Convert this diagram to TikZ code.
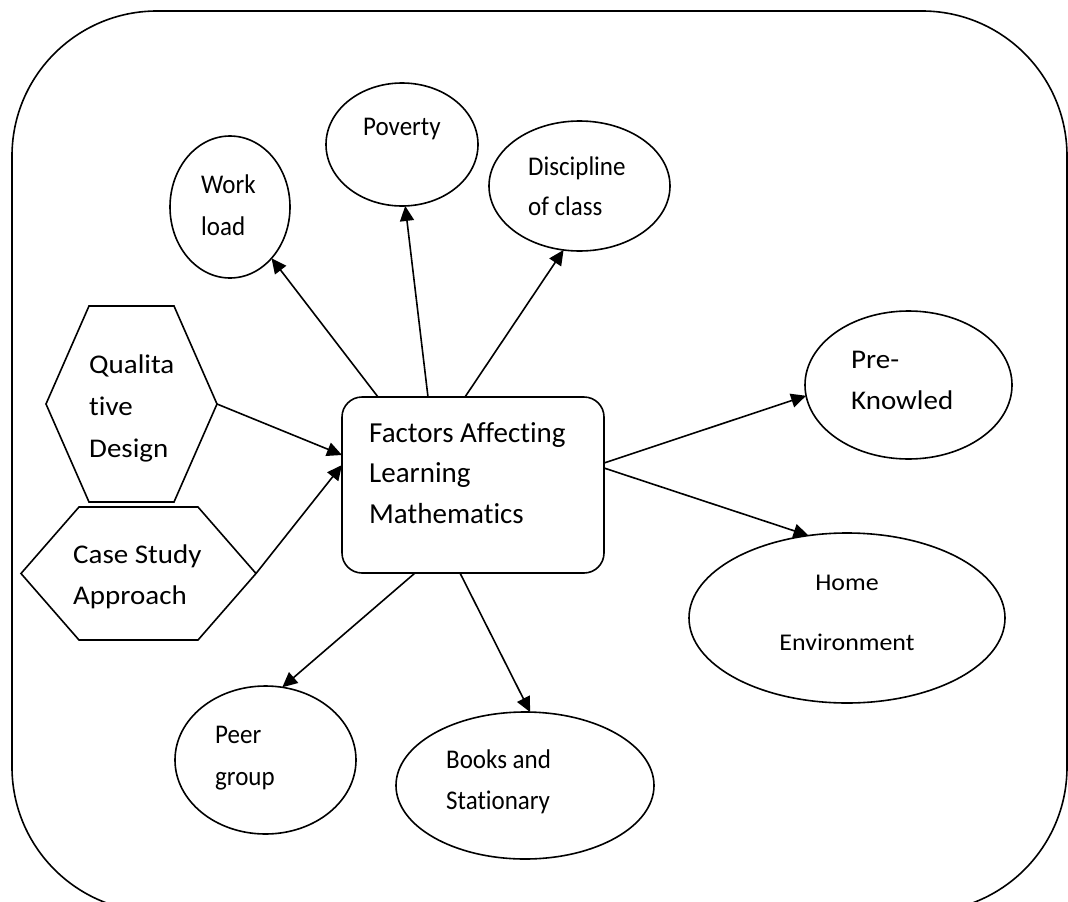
\documentclass[tikz,border=0pt]{standalone}
\usepackage{fontspec}
\setmainfont{Carlito}[Ligatures=NoCommon]
\usetikzlibrary{arrows.meta,calc,shapes.geometric}
\newcommand\myhs[2]{\scalebox{#1}[1]{#2}}
\begin{document}
\begin{tikzpicture}[x=1pt,y=-1pt,
  shp/.style={draw,line width=1.6pt,inner sep=0pt,outer sep=0pt},
  ell/.style={shp,ellipse},
  lbl/.style={anchor=base west,inner sep=0pt,font=\fontsize{29}{35}\selectfont},
  lblw/.style={anchor=base west,inner sep=0pt,font=\fontsize{27}{33}\selectfont},
  lbls/.style={anchor=base west,inner sep=0pt,font=\fontsize{27}{33}\selectfont},
  lblc/.style={anchor=base,inner sep=0pt,font=\fontsize{24}{30}\selectfont},
  arr/.style={line width=1.6pt,-{Triangle[length=15pt,width=14pt]}}]
\useasboundingbox (0,0) rectangle (1068,902);
\begin{scope}
\clip (0,0) rectangle (1068,902);
\draw[line width=1.6pt,rounded corners=145pt] (12,11) rectangle (1067,912);
\end{scope}
% ellipses
\node[ell,minimum width=120pt,minimum height=142pt] (wl) at (230,207) {};
\node[ell,minimum width=152pt,minimum height=123pt] (pv) at (402,144.5) {};
\node[ell,minimum width=181pt,minimum height=130pt] (dc) at (579.5,186) {};
\node[ell,minimum width=207pt,minimum height=148pt] (pk) at (908.5,385) {};
\node[ell,minimum width=316pt,minimum height=170pt] (he) at (847,618) {};
\node[ell,minimum width=181pt,minimum height=148pt] (pg) at (265.5,760) {};
\node[ell,minimum width=258pt,minimum height=147pt] (bs) at (525,785.5) {};
% centre box
\node[shp,rounded corners=20pt,minimum width=262pt,minimum height=176pt] (c) at (473,485) {};
% hexagons
\node[inner sep=0pt,outer sep=0pt,minimum width=171pt,minimum height=196pt] (q) at (131.5,404) {};
\draw[line width=1.6pt] (q.west) -- ($(q.north west)+(43,0)$) -- ($(q.north east)+(-43,0)$) -- (q.east) -- ($(q.south east)+(-43,0)$) -- ($(q.south west)+(43,0)$) -- cycle;
\node[inner sep=0pt,outer sep=0pt,minimum width=235pt,minimum height=133pt] (cs) at (138.5,573.5) {};
\draw[line width=1.6pt] (cs.west) -- ($(cs.north west)+(58,0)$) -- ($(cs.north east)+(-58,0)$) -- (cs.east) -- ($(cs.south east)+(-58,0)$) -- ($(cs.south west)+(58,0)$) -- cycle;
% labels
\node[lbls] (t1) at (201,193) {\myhs{0.926}{Work}};
\node[lbls] (t2) at (201,235) {\myhs{0.926}{load}};
\node[lbls] (t3) at (363,135) {\myhs{0.926}{Poverty}};
\node[lbls] (t4) at (528,175) {\myhs{0.926}{Discipline}};
\node[lbls] (t5) at (528,215) {\myhs{0.926}{of class}};
\node[lbl] (t6) at (369,442) {Factors Affecting};
\node[lbl] (t7) at (369,482) {Learning};
\node[lbl] (t8) at (369,523) {Mathematics};
\node[lblw] (t9) at (89,373) {\myhs{1.074}{Qualita}};
\node[lblw] (t10) at (89,415) {\myhs{1.074}{tive}};
\node[lblw] (t11) at (89,457) {\myhs{1.074}{Design}};
\node[lblw] (t12) at (73,563) {\myhs{1.074}{Case Study}};
\node[lblw] (t13) at (73,604) {\myhs{1.074}{Approach}};
\node[lblw] (t14) at (851,368) {\myhs{1.074}{Pre-}};
\node[lblw] (t15) at (851,409) {\myhs{1.074}{Knowled}};
\node[lblc] (t16) at (847,590) {\myhs{1.08}{Home}};
\node[lblc] (t17) at (847,650) {\myhs{1.08}{Environment}};
\node[lbls] (t18) at (215,743) {\myhs{0.926}{Peer}};
\node[lbls] (t19) at (215,785) {\myhs{0.926}{group}};
\node[lbls] (t20) at (446,768) {\myhs{0.926}{Books and}};
\node[lbls] (t21) at (446,809) {\myhs{0.926}{Stationary}};
% connectors
\draw[arr] (q.east) -- ($(c.north west)+(0,58)$);
\draw[arr] (cs.east) -- ($(c.north west)+(0,68)$);
\draw[arr] ($(c.north west)+(36,0)$) -- (wl.-51);
\draw[arr] ($(c.north west)+(86,0)$) -- (pv.-87);
\draw[arr] ($(c.north west)+(123,0)$) -- (dc.-104);
\draw[arr] ($(c.north east)+(0,66)$) -- (pk.186);
\draw[arr] ($(c.north east)+(0,71)$) -- (he.115);
\draw[arr] ($(c.south west)+(73,0)$) -- (pg.77);
\draw[arr] ($(c.south west)+(118,0)$) -- (bs.86);
\end{tikzpicture}
\end{document}
